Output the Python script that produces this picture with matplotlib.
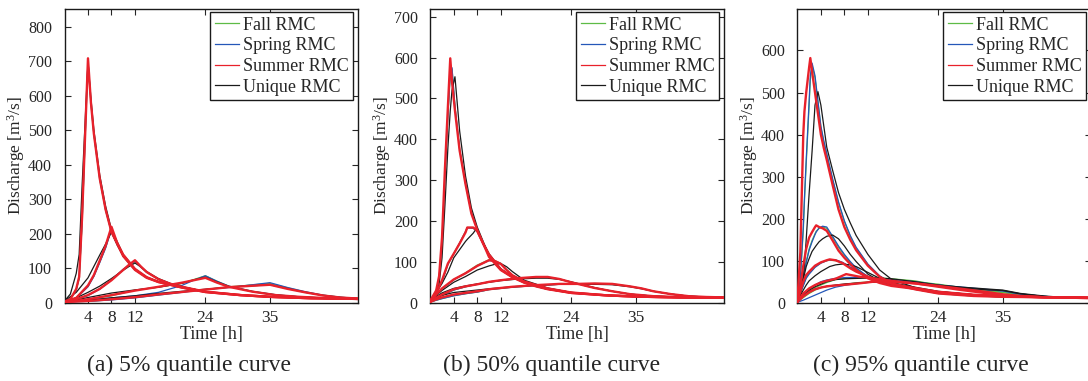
import matplotlib
matplotlib.use("Agg")
import matplotlib.pyplot as plt
from matplotlib.lines import Line2D

plt.rcParams["font.family"] = "Liberation Serif"
plt.rcParams["mathtext.fontset"] = "custom"
plt.rcParams["mathtext.rm"] = "Liberation Serif"
plt.rcParams["mathtext.it"] = "Liberation Serif:italic"

RMC_NAMES = ["Fall RMC", "Spring RMC", "Summer RMC", "Unique RMC"]
RMC_COLORS = ["#5dbb46", "#2457b8", "#e8212b", "#1a1a1a"]
RMC_WIDTHS = [0.9, 0.9, 1.7, 0.9]
RMC_ZORDER = [2, 3, 5, 4]

XTICKS = [4, 8, 12, 24, 35]
CAPTIONS = ["(a) 5% quantile curve", "(b) 50% quantile curve", "(c) 95% quantile curve"]

# ===== (a) 5% quantile =====
ta4 = [0, 1, 2, 2.5, 3, 3.5, 4, 4.5, 5, 6, 7, 8, 10, 12, 14, 16, 20, 24, 30, 35, 42, 50]
fall_a4 = [3, 11, 38, 70, 230, 470, 700, 578, 488, 358, 268, 204, 134, 95, 72, 60, 44, 31, 22, 17, 13, 11]
spring_a4 = [3, 11, 38, 72, 235, 470, 702, 579, 489, 359, 269, 204, 134, 95, 72, 60, 44, 31, 22, 17, 13, 11]
summer_a4 = [3, 10, 40, 75, 250, 480, 708, 580, 490, 360, 270, 205, 135, 95, 72, 60, 44, 31, 22, 17, 13, 11]
unique_a4 = [5, 25, 85, 140, 340, 520, 698, 592, 500, 370, 280, 212, 140, 98, 74, 61, 45, 32, 22, 17, 13, 11]

ta8 = [0, 2, 4, 5, 6, 7, 8, 9, 10, 12, 14, 16, 20, 24, 30, 35, 42, 50]
fall_a8 = [3, 14, 48, 78, 118, 160, 214, 170, 138, 97, 73, 60, 44, 31, 22, 17, 13, 11]
spring_a8 = [3, 13, 46, 76, 116, 158, 212, 169, 137, 97, 73, 60, 44, 31, 22, 17, 13, 11]
summer_a8 = [3, 14, 50, 80, 122, 165, 220, 172, 139, 98, 74, 60, 44, 31, 22, 17, 13, 11]
unique_a8 = [5, 30, 72, 105, 138, 170, 205, 166, 136, 97, 74, 61, 45, 31, 22, 17, 13, 11]

ta12 = [0, 2, 4, 6, 8, 10, 11, 12, 13, 14, 16, 18, 20, 24, 30, 35, 42, 50]
fall_a12 = [3, 10, 22, 40, 66, 96, 108, 119, 103, 88, 68, 55, 46, 32, 22, 17, 13, 11]
spring_a12 = [3, 9, 21, 39, 66, 97, 109, 120, 103, 88, 68, 55, 46, 32, 22, 17, 13, 11]
summer_a12 = [3, 10, 22, 40, 65, 95, 110, 123, 105, 89, 68, 55, 46, 32, 22, 17, 13, 11]
unique_a12 = [4, 14, 30, 48, 70, 94, 105, 115, 104, 90, 70, 56, 47, 32, 22, 17, 13, 11]

ta24 = [0, 2, 4, 8, 12, 16, 20, 22, 24, 26, 28, 32, 36, 40, 45, 50]
fall_a24 = [2, 5, 9, 20, 36, 45, 56, 67, 78, 62, 48, 33, 23, 17, 13, 11]
spring_a24 = [2, 4, 7, 14, 20, 30, 50, 65, 78, 62, 48, 33, 23, 17, 13, 11]
summer_a24 = [2, 5, 10, 22, 35, 46, 58, 65, 72, 58, 46, 32, 22, 17, 13, 11]
unique_a24 = [3, 8, 15, 28, 37, 45, 56, 66, 74, 60, 47, 32, 22, 17, 13, 11]

ta35 = [0, 4, 8, 12, 16, 20, 24, 28, 31, 35, 38, 41, 44, 47, 50]
fall_a35 = [2, 4, 9, 15, 23, 31, 38, 46, 50, 56, 43, 31, 22, 16, 12]
spring_a35 = [2, 4, 8, 14, 22, 30, 38, 44, 50, 58, 44, 32, 22, 16, 12]
summer_a35 = [2, 5, 10, 16, 24, 31, 38, 45, 48, 52, 40, 30, 21, 15, 12]
unique_a35 = [3, 7, 14, 20, 27, 33, 39, 45, 48, 52, 41, 30, 21, 15, 12]

# ===== (b) 50% quantile =====
tb4 = [0, 1, 1.5, 2, 2.5, 3, 3.4, 3.7, 4.2, 5, 6, 7, 8, 10, 12, 14, 16, 18, 20, 24, 30, 35, 42, 50]
fall_b4 = [5, 28, 60, 150, 310, 460, 555, 572, 480, 375, 292, 220, 180, 113, 80, 62, 49, 40, 33, 24, 18, 15, 13, 12]
spring_b4 = [5, 28, 60, 150, 310, 460, 560, 575, 480, 375, 292, 220, 180, 113, 80, 62, 49, 40, 33, 24, 18, 15, 13, 12]
summer_b4 = [5, 30, 65, 160, 330, 480, 598, 540, 470, 372, 290, 218, 178, 112, 80, 62, 49, 40, 33, 24, 18, 15, 13, 12]
unique_b4 = [5, 20, 45, 110, 240, 380, 470, 520, 553, 420, 310, 232, 185, 115, 82, 63, 50, 40, 33, 24, 18, 15, 13, 12]

tb8 = [0, 1, 2, 3, 4, 5, 6, 6.3, 7.3, 7.7, 8, 9, 10, 12, 14, 16, 20, 24, 30, 35, 42, 50]
fall_b8 = [3, 24, 52, 94, 120, 146, 174, 184, 183, 178, 174, 144, 117, 82, 63, 50, 34, 24, 18, 15, 13, 12]
spring_b8 = [3, 24, 52, 94, 120, 146, 174, 183, 182, 178, 174, 144, 117, 82, 63, 50, 34, 24, 18, 15, 13, 12]
summer_b8 = [3, 22, 55, 96, 120, 145, 172, 184, 184, 180, 175, 145, 118, 82, 63, 50, 34, 24, 18, 15, 13, 12]
unique_b8 = [4, 25, 47, 75, 110, 130, 150, 155, 170, 178, 176, 148, 120, 83, 63, 50, 34, 24, 18, 15, 13, 12]

tb12 = [0, 1, 2, 4, 6, 8, 10, 11, 12, 13, 14, 16, 20, 24, 30, 35, 42, 50]
fall_b12 = [3, 19, 34, 56, 73, 92, 105, 103, 96, 80, 67, 52, 35, 25, 18, 15, 13, 12]
spring_b12 = [3, 19, 34, 56, 72, 90, 103, 102, 96, 80, 67, 52, 35, 25, 18, 15, 13, 12]
summer_b12 = [3, 20, 35, 57, 72, 90, 104, 102, 95, 80, 67, 52, 35, 25, 18, 15, 13, 12]
unique_b12 = [4, 18, 30, 50, 64, 80, 90, 94, 96, 88, 76, 55, 36, 25, 18, 15, 13, 12]

tb24 = [0, 1, 2, 4, 6, 8, 10, 12, 15, 18, 20, 22, 24, 26, 28, 31, 34, 38, 42, 46, 50]
fall_b24 = [2, 10, 18, 31, 39, 45, 51, 55, 60, 62, 62, 58, 50, 43, 36, 28, 21, 16, 14, 13, 12]
spring_b24 = [2, 10, 18, 31, 39, 45, 51, 55, 60, 62, 62, 58, 50, 43, 36, 28, 21, 16, 14, 13, 12]
summer_b24 = [2, 12, 20, 33, 40, 45, 51, 55, 60, 63, 63, 58, 50, 43, 36, 28, 21, 16, 14, 13, 12]
unique_b24 = [3, 15, 24, 35, 41, 46, 50, 54, 58, 60, 60, 57, 51, 44, 37, 28, 21, 16, 14, 13, 12]

tb35 = [0, 1, 2, 4, 6, 8, 10, 14, 18, 22, 25, 28, 31, 34, 36, 38, 41, 44, 47, 50]
fall_b35 = [2, 6, 10, 17, 22, 26, 32, 38, 42, 45, 46, 47, 46, 40, 35, 28, 21, 16, 14, 13]
spring_b35 = [2, 6, 10, 17, 22, 26, 32, 38, 42, 45, 46, 46, 45, 40, 35, 28, 21, 16, 14, 13]
summer_b35 = [2, 8, 13, 20, 24, 28, 33, 39, 43, 46, 46, 47, 46, 40, 35, 28, 21, 16, 14, 13]
unique_b35 = [3, 12, 18, 25, 28, 31, 34, 39, 43, 45, 45, 45, 44, 39, 34, 28, 21, 16, 14, 13]

# ===== (c) 95% quantile =====
tc4 = [0, 0.5, 1, 1.2, 1.5, 2, 2.2, 2.5, 3, 3.5, 4, 4.5, 5, 6, 7, 8, 9, 10, 12, 14, 16, 20, 24, 30, 35, 42, 50]
fall_c4 = [5, 55, 170, 240, 330, 470, 530, 565, 535, 476, 417, 382, 352, 292, 238, 193, 158, 130, 91, 63, 47, 32, 22, 16, 14, 13, 12]
spring_c4 = [5, 60, 180, 250, 340, 480, 540, 570, 540, 480, 420, 385, 355, 295, 240, 195, 160, 132, 92, 64, 47, 32, 22, 16, 14, 13, 12]
summer_c4 = [5, 120, 400, 455, 500, 560, 582, 550, 500, 450, 400, 368, 340, 280, 222, 180, 150, 125, 88, 62, 46, 32, 22, 16, 14, 13, 12]
unique_c4 = [5, 20, 60, 90, 150, 260, 300, 360, 470, 502, 470, 420, 370, 315, 262, 222, 190, 160, 115, 78, 56, 36, 24, 17, 14, 13, 12]

tc8 = [0, 0.5, 1, 1.5, 2, 2.5, 3, 3.2, 3.7, 4.3, 5, 6, 7, 8, 9, 10, 12, 14, 16, 20, 24, 30, 35, 42, 50]
fall_c8 = [3, 28, 64, 98, 128, 148, 164, 170, 177, 180, 177, 155, 132, 113, 96, 82, 61, 48, 41, 33, 25, 18, 15, 13, 12]
spring_c8 = [3, 25, 60, 95, 125, 145, 162, 168, 178, 182, 180, 158, 135, 115, 98, 83, 62, 48, 41, 33, 25, 18, 15, 13, 12]
summer_c8 = [3, 40, 88, 128, 155, 168, 180, 184, 180, 177, 171, 148, 124, 107, 92, 78, 58, 47, 40, 33, 25, 18, 15, 13, 12]
unique_c8 = [4, 25, 55, 86, 105, 122, 132, 136, 145, 152, 158, 161, 152, 135, 115, 98, 68, 52, 43, 34, 26, 19, 15, 13, 12]

tc12 = [0, 1, 1.5, 2, 3, 4, 5, 5.5, 6.5, 7.7, 9, 10, 12, 14, 16, 20, 24, 30, 35, 42, 50]
fall_c12 = [3, 42, 60, 70, 85, 95, 100, 101, 100, 95, 84, 76, 62, 52, 45, 35, 26, 19, 16, 13, 12]
spring_c12 = [3, 40, 58, 68, 84, 94, 100, 102, 102, 96, 85, 77, 63, 52, 45, 35, 26, 19, 16, 13, 12]
summer_c12 = [3, 50, 66, 74, 88, 96, 101, 103, 101, 94, 82, 74, 62, 52, 45, 35, 26, 19, 16, 13, 12]
unique_c12 = [3, 30, 42, 52, 64, 74, 82, 86, 90, 92, 90, 86, 72, 58, 48, 37, 27, 19, 16, 13, 12]

tc24 = [0, 1, 2, 3, 4, 5, 6.5, 8.3, 10.5, 13, 16, 20, 24, 28, 32, 35, 38, 42, 46, 50]
fall_c24 = [2, 16, 28, 36, 42, 48, 55, 58, 60, 60, 57, 52, 42, 34, 28, 24, 18, 14, 12, 11]
spring_c24 = [2, 18, 32, 42, 50, 54, 58, 60, 60, 58, 55, 50, 42, 36, 31, 28, 20, 15, 12, 11]
summer_c24 = [2, 22, 34, 42, 48, 52, 57, 68, 62, 58, 52, 46, 38, 30, 23, 18, 15, 13, 12, 11]
unique_c24 = [3, 20, 30, 38, 44, 50, 55, 57, 58, 59, 57, 50, 42, 37, 33, 30, 22, 16, 12, 11]

tc35 = [0, 1, 2, 3, 4, 5, 6.5, 8.3, 10.5, 13, 16, 20, 24, 28, 32, 35, 38, 42, 46, 50]
fall_c35 = [2, 12, 22, 30, 36, 38, 41, 44, 48, 50, 52, 50, 44, 36, 30, 25, 19, 14, 12, 11]
spring_c35 = [1, 6, 12, 18, 24, 30, 37, 42, 46, 50, 51, 48, 42, 37, 32, 28, 21, 15, 12, 11]
summer_c35 = [2, 15, 25, 32, 36, 39, 41, 43, 46, 50, 50, 46, 40, 33, 26, 20, 16, 13, 12, 11]
unique_c35 = [3, 16, 26, 32, 36, 39, 42, 45, 47, 49, 50, 47, 41, 35, 31, 29, 21, 15, 12, 11]

panels = [
    {
        "times": [ta4, ta8, ta12, ta24, ta35],
        "curves": [[fall_a4, spring_a4, summer_a4, unique_a4],
                   [fall_a8, spring_a8, summer_a8, unique_a8],
                   [fall_a12, spring_a12, summer_a12, unique_a12],
                   [fall_a24, spring_a24, summer_a24, unique_a24],
                   [fall_a35, spring_a35, summer_a35, unique_a35]],
        "ymax": 850, "yticks": range(0, 801, 100),
        "left": 64.5, "caption_x": 188.7,
    },
    {
        "times": [tb4, tb8, tb12, tb24, tb35],
        "curves": [[fall_b4, spring_b4, summer_b4, unique_b4],
                   [fall_b8, spring_b8, summer_b8, unique_b8],
                   [fall_b12, spring_b12, summer_b12, unique_b12],
                   [fall_b24, spring_b24, summer_b24, unique_b24],
                   [fall_b35, spring_b35, summer_b35, unique_b35]],
        "ymax": 718, "yticks": range(0, 701, 100),
        "left": 430.3, "caption_x": 551.8,
    },
    {
        "times": [tc4, tc8, tc12, tc24, tc35],
        "curves": [[fall_c4, spring_c4, summer_c4, unique_c4],
                   [fall_c8, spring_c8, summer_c8, unique_c8],
                   [fall_c12, spring_c12, summer_c12, unique_c12],
                   [fall_c24, spring_c24, summer_c24, unique_c24],
                   [fall_c35, spring_c35, summer_c35, unique_c35]],
        "ymax": 698, "yticks": range(0, 601, 100),
        "left": 797.4, "caption_x": 921.3,
    },
]

W, H = 1088, 381
fig = plt.figure(figsize=(W / 100, H / 100), dpi=100)
TEXT = "#262626"

for p, caption in zip(panels, CAPTIONS):
    ax = fig.add_axes([p["left"] / W, (H - 302.7) / H, 293.5 / W, 293.4 / H])
    for t, group in zip(p["times"], p["curves"]):
        for q, color, lw, z in zip(group, RMC_COLORS, RMC_WIDTHS, RMC_ZORDER):
            ax.plot(t, q, color=color, lw=lw, zorder=z, solid_joinstyle="round")

    ax.set_xlim(0, 50)
    ax.set_ylim(0, p["ymax"])
    ax.set_xticks(XTICKS)
    ax.set_yticks(list(p["yticks"]))
    ax.tick_params(direction="in", top=True, right=True, length=4, width=0.8,
                   labelsize=12.5, colors=TEXT)
    ax.tick_params(axis="y", pad=9, labelsize=11.5)
    ax.tick_params(axis="x", pad=5)
    for s in ax.spines.values():
        s.set_linewidth(1.0)
        s.set_color("#1a1a1a")
    ax.set_xlabel("Time [h]", fontsize=13, color=TEXT, labelpad=0)
    ax.set_ylabel("Discharge [m$^3$/s]", fontsize=12.5, color=TEXT, labelpad=0.5)

    handles = [Line2D([], [], color=c, lw=0.9) for c in RMC_COLORS]
    leg = ax.legend(handles, RMC_NAMES, loc="upper right",
                    bbox_to_anchor=(1 - 5 / 293.5, 1 - 3 / 293.4),
                    borderaxespad=0, fancybox=False, framealpha=1,
                    edgecolor="#1a1a1a", fontsize=13, handlelength=1.35,
                    handletextpad=0.2, labelspacing=0.2, borderpad=0.25)
    leg.get_frame().set_linewidth(1.0)
    for txt in leg.get_texts():
        txt.set_color(TEXT)

    fig.text(p["caption_x"] / W, (H - 365) / H, caption, ha="center", va="center",
             fontsize=17, color=TEXT)

fig.savefig("out.png", dpi=100)
